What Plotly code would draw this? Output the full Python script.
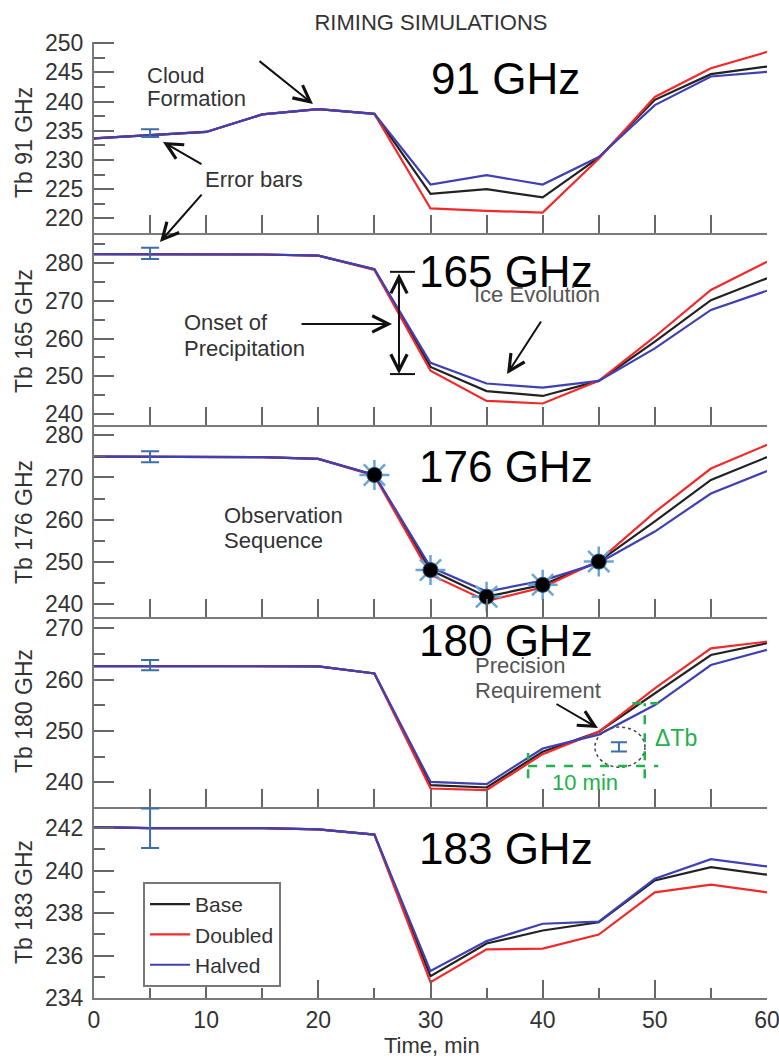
import plotly.graph_objects as go

# ---------------- data ----------------
time_min = [0, 5, 10, 15, 20, 25, 30, 35, 40, 45, 50, 55, 60]

tb91_base    = [233.7, 234.3, 234.8, 237.8, 238.7, 237.9, 224.2, 225.0, 223.6, 230.4, 240.3, 244.7, 246.0]
tb91_doubled = [233.7, 234.3, 234.8, 237.8, 238.7, 237.9, 221.7, 221.3, 221.0, 230.2, 240.8, 245.7, 248.5]
tb91_halved  = [233.7, 234.3, 234.8, 237.8, 238.7, 237.9, 225.8, 227.4, 225.8, 230.5, 239.4, 244.3, 245.1]

tb165_base    = [282.4, 282.4, 282.4, 282.3, 282.0, 278.4, 252.5, 246.1, 244.8, 248.8, 259.2, 270.2, 276.0]
tb165_doubled = [282.4, 282.4, 282.4, 282.3, 282.0, 278.2, 251.5, 243.5, 242.8, 248.8, 260.5, 272.9, 280.4]
tb165_halved  = [282.4, 282.4, 282.4, 282.3, 282.0, 278.4, 253.6, 248.1, 247.0, 248.8, 257.4, 267.6, 272.7]

tb176_base    = [274.9, 274.9, 274.9, 274.8, 274.4, 270.6, 248.1, 241.8, 244.6, 250.1, 259.6, 269.4, 274.8]
tb176_doubled = [274.9, 274.9, 274.9, 274.8, 274.4, 270.4, 247.0, 240.8, 244.0, 250.3, 261.8, 272.1, 277.7]
tb176_halved  = [274.9, 274.9, 274.9, 274.8, 274.4, 270.6, 248.8, 243.0, 245.6, 249.8, 257.2, 266.2, 271.5]

tb180_base    = [262.65, 262.65, 262.6, 262.7, 262.6, 261.2, 239.45, 239.0, 245.95, 249.85, 257.3, 264.8, 267.1]
tb180_doubled = [262.65, 262.65, 262.6, 262.7, 262.6, 261.2, 238.8, 238.5, 245.5, 249.85, 258.3, 266.1, 267.4]
tb180_halved  = [262.65, 262.65, 262.6, 262.7, 262.6, 261.2, 240.1, 239.65, 246.6, 249.3, 255.05, 262.85, 265.8]

tb183_base    = [242.05, 242.0, 242.0, 242.0, 241.95, 241.7, 235.03, 236.57, 237.18, 237.57, 239.54, 240.17, 239.81]
tb183_doubled = [242.05, 242.0, 242.0, 242.0, 241.95, 241.7, 234.75, 236.29, 236.33, 236.99, 238.98, 239.34, 238.98]
tb183_halved  = [242.05, 242.0, 242.0, 242.0, 241.95, 241.7, 235.27, 236.68, 237.5, 237.6, 239.62, 240.54, 240.2]

channels = ["91", "165", "176", "180", "183"]
series_names = ["Base", "Doubled", "Halved"]

# error bars at t = 5 min in every panel
err_time = [5, 5, 5, 5, 5]
err_center = [234.6, 282.6, 274.9, 262.85, 242.0]
err_half = [0.66, 1.5, 1.3, 1.0, 0.93]

# precision requirement bar (180 GHz panel)
prec_time = [46.8]
prec_center = [246.9]
prec_half = [0.9]

# observation sequence (176 GHz panel)
obs_time = [25, 30, 35, 40, 45]
obs_tb = [270.6, 248.1, 241.8, 244.6, 250.1]

x_ticks_bottom = [0, 10, 20, 30, 40, 50, 60]

# ---------------- styling / layout ----------------
data_sets = [
    (tb91_base, tb91_doubled, tb91_halved),
    (tb165_base, tb165_doubled, tb165_halved),
    (tb176_base, tb176_doubled, tb176_halved),
    (tb180_base, tb180_doubled, tb180_halved),
    (tb183_base, tb183_doubled, tb183_halved),
]
colors = ["#222222", "#f02a2a", "#3e40b4"]
y_ranges = [[217.5, 250.2], [237.1, 288.0], [237.0, 282.4], [235.2, 272.2], [234.0, 243.0]]
y_major = [5, 10, 10, 10, 2]
y_minor = [2.5, 5, 5, 5, 1]

W, H = 779, 1060
ML, MR, MT, MB = 94, 12, 42, 62
PH = H - MT - MB
PW = W - ML - MR
bounds = [42, 233, 425, 617, 807, 998]


def py(pix):
    return (H - MB - pix) / PH


def px(pix):
    return (pix - ML) / PW


FONT = "Liberation Sans, Arial, Helvetica, sans-serif"
AX_COL = "#7a7a7a"
TXT = "#333333"

fig = go.Figure()

for i in range(5):
    xa = "x" if i == 0 else f"x{i+1}"
    ya = "y" if i == 0 else f"y{i+1}"
    for k in range(3):
        fig.add_trace(go.Scatter(
            x=time_min, y=data_sets[i][k], mode="lines", name=series_names[k],
            line=dict(color=colors[k], width=2.2), xaxis=xa, yaxis=ya,
            showlegend=(i == 4), legendrank=k + 1,
        ))
    fig.add_trace(go.Scatter(
        x=[err_time[i]], y=[err_center[i]], mode="markers",
        marker=dict(size=2, color="rgba(0,0,0,0)"),
        error_y=dict(type="data", array=[err_half[i]], visible=True,
                     color="#3c6fa6", thickness=2, width=9),
        xaxis=xa, yaxis=ya, showlegend=False, hoverinfo="skip",
    ))

# precision bar
fig.add_trace(go.Scatter(
    x=prec_time, y=prec_center, mode="markers",
    marker=dict(size=2, color="rgba(0,0,0,0)"),
    error_y=dict(type="data", array=prec_half, visible=True,
                 color="#3c6fa6", thickness=2, width=8),
    xaxis="x4", yaxis="y4", showlegend=False, hoverinfo="skip",
))

# observation markers
fig.add_trace(go.Scatter(
    x=obs_time, y=obs_tb, mode="markers",
    marker=dict(symbol="asterisk-open", size=25, color="#6aa5d8",
                line=dict(color="#6aa5d8", width=2.5)),
    xaxis="x3", yaxis="y3", showlegend=False, hoverinfo="skip",
))
fig.add_trace(go.Scatter(
    x=obs_time, y=obs_tb, mode="markers",
    marker=dict(symbol="circle", size=15, color="black",
                line=dict(color="#2a4a70", width=1)),
    xaxis="x3", yaxis="y3", showlegend=False, hoverinfo="skip",
))

layout = dict(
    width=W, height=H,
    margin=dict(l=ML, r=MR, t=MT, b=MB, autoexpand=False),
    paper_bgcolor="white", plot_bgcolor="white",
    font=dict(family=FONT, size=22, color=TXT),
    showlegend=True,
    legend=dict(x=px(143), y=py(882), xanchor="left", yanchor="top",
                bgcolor="white", bordercolor="#777777", borderwidth=2,
                font=dict(size=21, color=TXT), itemwidth=40,
                tracegroupgap=0),
    title=dict(text="RIMING SIMULATIONS", x=(431) / W,
               xanchor="center", y=1 - 22 / H, yanchor="middle",
               font=dict(size=22, color=TXT, family=FONT)),
)

for i in range(5):
    n = i + 1
    xk = "xaxis" if i == 0 else f"xaxis{n}"
    yk = "yaxis" if i == 0 else f"yaxis{n}"
    xa = "x" if i == 0 else f"x{n}"
    ya = "y" if i == 0 else f"y{n}"
    dom = [py(bounds[i + 1]), py(bounds[i])]
    xd = dict(domain=[0, 1], range=[0, 60], anchor=ya, side="bottom",
              showline=True, linecolor=AX_COL, linewidth=2, automargin=False,
              showgrid=False, zeroline=False, ticks="inside",
              tickcolor="#666666", tickwidth=2, fixedrange=True)
    if i < 4:
        xd.update(tickmode="linear", tick0=0, dtick=5, ticklen=18,
                  showticklabels=False)
    else:
        xd.update(tickmode="array", tickvals=x_ticks_bottom, ticklen=18,
                  showticklabels=True, tickfont=dict(size=23, color=TXT),
                  ticklabeloverflow="allow",
                  minor=dict(dtick=5, tick0=0, ticklen=10, ticks="inside",
                             tickcolor="#666666", tickwidth=2, showgrid=False))
    layout[xk] = xd
    layout[yk] = dict(domain=dom, range=y_ranges[i], anchor=xa, automargin=False,
                      showline=True, linecolor=AX_COL, linewidth=2,
                      showgrid=False, zeroline=False, ticks="inside",
                      tickmode="linear", tick0=0, dtick=y_major[i],
                      ticklen=20, tickcolor="#666666", tickwidth=2,
                      tickfont=dict(size=23, color=TXT),
                      ticklabelstandoff=4,
                      minor=dict(dtick=y_minor[i], tick0=0, ticklen=11,
                                 ticks="inside", tickcolor="#666666",
                                 tickwidth=2, showgrid=False),
                      fixedrange=True)
    # right mirror axis
    layout[f"yaxis{5+n}"] = dict(overlaying=ya, side="right", anchor=xa,
                                  range=y_ranges[i], showline=True, automargin=False,
                                  linecolor=AX_COL, linewidth=2,
                                  showgrid=False, zeroline=False,
                                  ticks="inside", tickmode="linear", tick0=0,
                                  dtick=y_minor[i], ticklen=18,
                                  tickcolor="#666666", tickwidth=2,
                                  showticklabels=False, fixedrange=True)
    # top mirror axis
    tx = dict(overlaying=xa, side="top", anchor=ya, range=[0, 60],
              showline=True, linecolor=AX_COL, linewidth=2, automargin=False,
              showgrid=False, zeroline=False, showticklabels=False,
              fixedrange=True)
    if i < 4:
        tx.update(ticks="inside", tickmode="linear", tick0=0, dtick=5,
                  ticklen=14, tickcolor="#666666", tickwidth=2)
    else:
        tx.update(ticks="")
    layout[f"xaxis{5+n}"] = tx

fig.update_layout(**layout)

ann = []
# y axis titles
ytitle_pix = [143, 331, 522, 711, 902]
for i in range(5):
    ann.append(dict(text=f"Tb {channels[i]} GHz", xref="paper", yref="paper",
                    x=px(24), y=py(ytitle_pix[i]), textangle=-90,
                    showarrow=False, xanchor="center", yanchor="middle",
                    font=dict(size=23, color=TXT)))
# big channel labels
big_y = [243.9, 277.9, 272.5, 267.7, 241.05]
for i in range(5):
    ann.append(dict(text=f"{channels[i]} GHz", xref="x" if i == 0 else f"x{i+1}",
                    yref="y" if i == 0 else f"y{i+1}", x=36.7, y=big_y[i],
                    showarrow=False, xanchor="center", yanchor="middle",
                    font=dict(size=44, color="black")))
# x title
ann.append(dict(text="Time, min", xref="paper", yref="paper", x=px(432),
                y=py(1045), showarrow=False, xanchor="center", yanchor="middle",
                font=dict(size=22, color=TXT)))


def txt(t, xr, yr, x, y, color=TXT, anchor="left", size=22):
    ann.append(dict(text=t, xref=xr, yref=yr, x=x, y=y, showarrow=False,
                    xanchor=anchor, yanchor="middle",
                    font=dict(size=size, color=color)))


def arrow(xr, yr, x, y, ax, ay, color="#111111", side="end"):
    ann.append(dict(text="", xref=xr, yref=yr, x=x, y=y, ax=ax, ay=ay,
                    axref="pixel", ayref="pixel", showarrow=True,
                    arrowhead=5, startarrowhead=5, arrowsize=1.6,
                    startarrowsize=1.6, arrowwidth=2, arrowcolor=color,
                    arrowside=side))


# panel 1
txt("Cloud", "x", "y", 4.55, 244.5)
txt("Formation", "x", "y", 4.55, 240.6)
arrow("x", "y", 19.52, 239.6, -55, -44)
txt("Error bars", "x", "y", 9.72, 226.7)
arrow("x", "y", 6.15, 233.1, 40, 23)
arrow("x2", "y2", 5.88, 285.6, 43, -49)
# panel 2
txt("Ice Evolution", "x2", "y2", 39.45, 271.6, color="#555555", anchor="center")
arrow("x2", "y2", 36.82, 250.6, 35, -54)
txt("Onset of", "x2", "y2", 7.85, 264.2)
txt("Precipitation", "x2", "y2", 7.85, 257.5)
arrow("x2", "y2", 26.57, 263.9, -92, 0)
arrow("x2", "y2", 27.19, 250.6, 0, -102, side="end+start")
# panel 3
txt("Observation", "x3", "y3", 11.41, 261.1)
txt("Sequence", "x3", "y3", 11.41, 255.2)
# panel 4
txt("Precision", "x4", "y4", 33.79, 262.84, color="#555555")
txt("Requirement", "x4", "y4", 33.79, 257.97, color="#555555")
arrow("x4", "y4", 44.93, 250.56, -43, -25)
GREEN = "#22b14c"
txt("ΔTb", "x4", "y4", 49.84, 248.6, color=GREEN, size=23)
txt("10 min", "x4", "y4", 43.77, 239.9, color=GREEN, anchor="center")

fig.update_layout(annotations=ann)

shapes = []
# caps of the double arrow
for yv in (277.7, 250.6):
    shapes.append(dict(type="line", xref="x2", yref="y2", x0=26.39, x1=28.62,
                       y0=yv, y1=yv, line=dict(color="#111111", width=2)))
# dotted ellipse
shapes.append(dict(type="circle", xref="x4", yref="y4", x0=44.66, x1=49.12,
                   y0=242.96, y1=250.76, line=dict(color="#444444", width=1.5, dash="dot")))
# green dashed lines
g = dict(color=GREEN, width=2.5, dash="dash")
shapes.append(dict(type="line", xref="x4", yref="y4", x0=38.7, x1=50.3, y0=243.2, y1=243.2, line=g))
shapes.append(dict(type="line", xref="x4", yref="y4", x0=49.1, x1=49.1, y0=240.8, y1=255.4, line=g))
shapes.append(dict(type="line", xref="x4", yref="y4", x0=48.0, x1=50.3, y0=255.4, y1=255.4, line=g))
shapes.append(dict(type="line", xref="x4", yref="y4", x0=38.7, x1=38.7, y0=240.8, y1=245.7, line=g))
fig.update_layout(shapes=shapes)

fig.write_html("out.html")
